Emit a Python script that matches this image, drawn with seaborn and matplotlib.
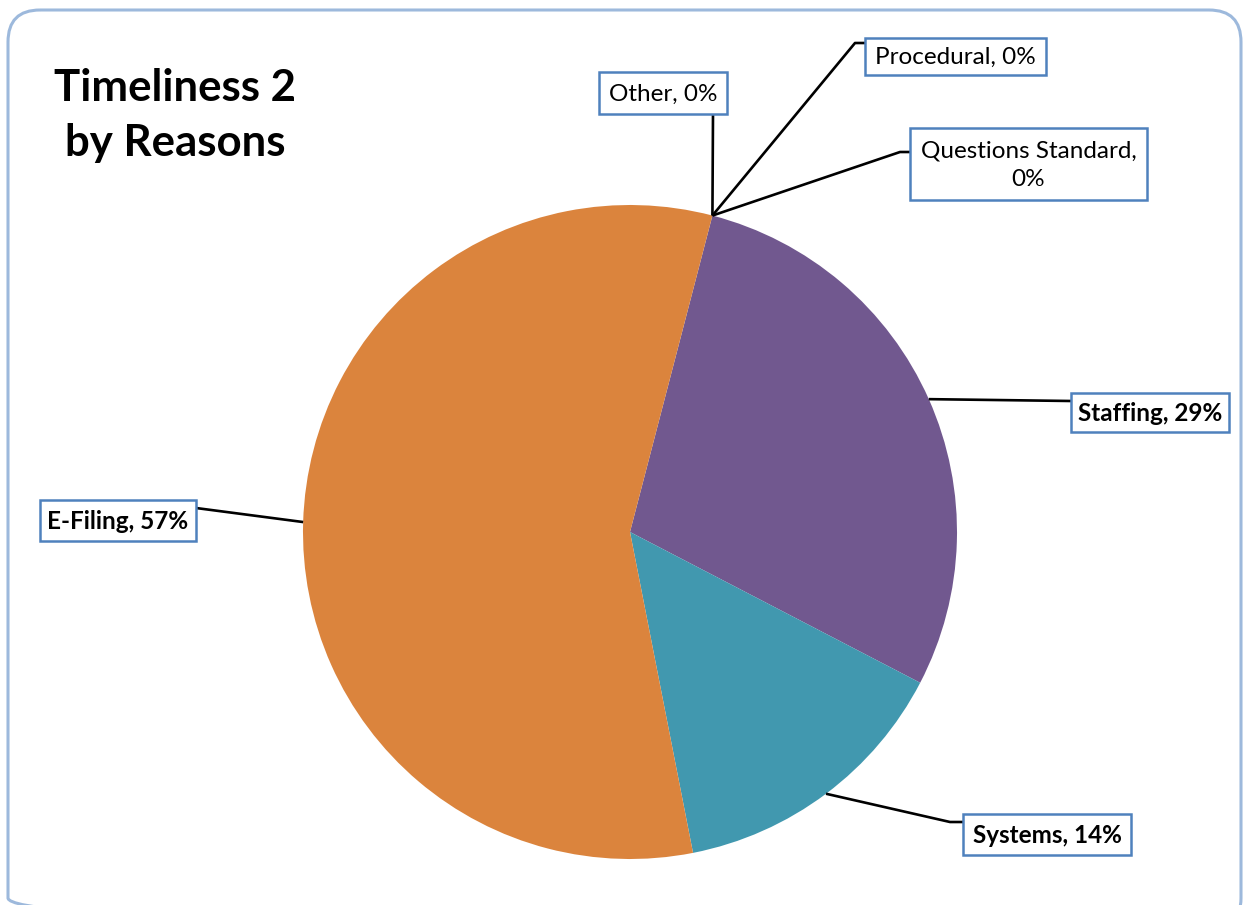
import numpy as np
import matplotlib
matplotlib.use("Agg")
import matplotlib.pyplot as plt
from matplotlib.patches import FancyBboxPatch, Rectangle
import seaborn as sns

# Reasons for Timeliness 2 issues (counts)
categories = ["Other", "Procedural", "Questions Standard", "Staffing", "Systems", "E-Filing"]
counts = [0, 0, 0, 2, 1, 4]
bold_labels = ["Staffing", "Systems", "E-Filing"]
title_lines = ["Timeliness 2", "by Reasons"]

sns.set_theme(style="white")
plt.rcParams["font.family"] = ["Lato", "DejaVu Sans"]

colors = {
    "Other": "#4F81BD",
    "Procedural": "#C0504D",
    "Questions Standard": "#9BBB59",
    "Staffing": "#71588F",
    "Systems": "#4198AF",
    "E-Filing": "#DB843D",
}

W, H = 1243, 905
fig = plt.figure(figsize=(W / 100, H / 100), dpi=100)
fig.patch.set_facecolor("white")
ax = fig.add_axes([0, 0, 1, 1])

# pie in pixel-like coordinates (y grows downward)
cx, cy, r = 630, 532, 327
wedges, _ = ax.pie(
    counts,
    colors=[colors[c] for c in categories],
    startangle=-75.4,
    counterclock=True,
    center=(cx, cy),
    radius=r,
    wedgeprops=dict(linewidth=0),
)
ax.set_xlim(0, W)
ax.set_ylim(H, 0)
ax.set_aspect("auto")
ax.axis("off")

# outer rounded frame
frame = FancyBboxPatch((8, 10), 1233, 920, boxstyle="round,pad=0,rounding_size=32",
                       fill=False, edgecolor="#9DB9DC", linewidth=2.2, clip_on=False)
ax.add_patch(frame)

# title
ax.text(175, 88, title_lines[0], ha="center", va="center", fontsize=31.5,
        fontweight="bold", color="black")
ax.text(175, 143, title_lines[1], ha="center", va="center", fontsize=31.5,
        fontweight="bold", color="black")

# label boxes: (x0, y0, x1, y1) and leader path elbows
boxes = {
    "Other": (599, 72, 727, 114),
    "Procedural": (865, 38, 1046, 75),
    "Questions Standard": (910, 128, 1147, 200),
    "Staffing": (1071, 393, 1229, 432),
    "Systems": (963, 814, 1131, 855),
    "E-Filing": (40, 500, 196, 541),
}
leaders = {
    "Other": [(713, 114)],
    "Procedural": [(855, 43), (865, 43)],
    "Questions Standard": [(900, 152), (910, 152)],
    "Staffing": [(1071, 401)],
    "Systems": [(950, 822), (963, 822)],
    "E-Filing": [(196, 508)],
}

total = sum(counts)
for cat, val, w in zip(categories, counts, wedges):
    mid = np.deg2rad((w.theta1 + w.theta2) / 2)
    ax0 = cx + r * np.cos(mid)
    ay0 = cy + r * np.sin(mid)
    pts = [(ax0, ay0)] + leaders[cat]
    ax.plot([p[0] for p in pts], [p[1] for p in pts], color="black", lw=1.9,
            solid_capstyle="butt", zorder=3)

    x0, y0, x1, y1 = boxes[cat]
    ax.add_patch(Rectangle((x0, y0), x1 - x0, y1 - y0, facecolor="white",
                           edgecolor="#4F81BD", linewidth=1.8, zorder=4))
    pct = int(round(100 * val / total))
    text = f"{cat}, {pct}%"
    if cat == "Questions Standard":
        text = f"{cat},\n{pct}%"
    ax.text((x0 + x1) / 2, (y0 + y1) / 2 + 1, text, ha="center", va="center",
            fontsize=17.5, fontweight="bold" if cat in bold_labels else "normal",
            color="black", linespacing=1.45, zorder=5)

fig.savefig("out.png", dpi=100, facecolor="white")
